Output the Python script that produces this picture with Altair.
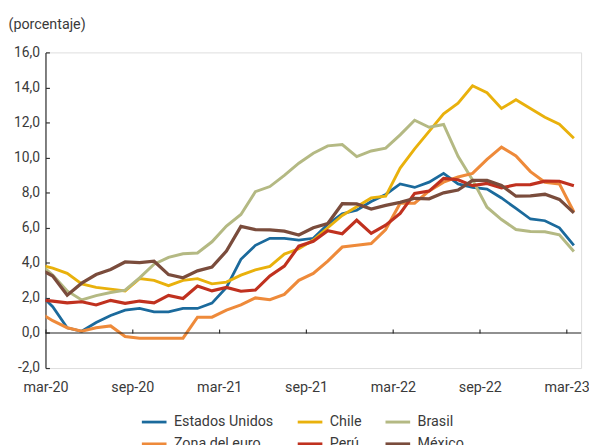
import altair as alt
import pandas as pd

# Months (feb-20 is only partly visible: the plot starts on 1 mar-20)
abbr = ["ene", "feb", "mar", "abr", "may", "jun", "jul", "ago", "sep", "oct", "nov", "dic"]
months = []
for yy in [20, 21, 22, 23]:
    for m in abbr:
        months.append(f"{m}-{yy}")
months = months[months.index("feb-20"):months.index("mar-23") + 1]

series = ["Estados Unidos", "Chile", "Brasil", "Zona del euro", "Perú", "México"]
colors = ["#1b6a9c", "#e9b10c", "#b4b983", "#ee8a3a", "#c0311f", "#7a4c3c"]
widths = [2.8, 3.3, 2.8, 2.8, 2.8, 2.8]

estados_unidos = [2.3, 1.5, 0.3, 0.1, 0.6, 1.0, 1.3, 1.4, 1.2, 1.2, 1.4, 1.4, 1.7, 2.6, 4.2, 5.0, 5.4, 5.4, 5.3,
                  5.4, 6.2, 6.8, 7.0, 7.5, 7.9, 8.5, 8.3, 8.6, 9.1, 8.5, 8.3, 8.2, 7.7, 7.1, 6.5, 6.4, 6.0, 5.0]
chile = [3.9, 3.7, 3.4, 2.8, 2.6, 2.5, 2.4, 3.1, 3.0, 2.7, 3.0, 3.1, 2.8, 2.9, 3.3, 3.6, 3.8, 4.5, 4.8,
         5.3, 6.0, 6.7, 7.2, 7.7, 7.8, 9.4, 10.5, 11.5, 12.5, 13.1, 14.1, 13.7, 12.8, 13.3, 12.8, 12.3, 11.9, 11.1]
brasil = [4.01, 3.30, 2.40, 1.88, 2.13, 2.31, 2.44, 3.14, 3.92, 4.31, 4.52, 4.56, 5.20, 6.10, 6.76, 8.06, 8.35,
          8.99, 9.68, 10.25, 10.67, 10.74, 10.06, 10.38, 10.54, 11.30, 12.13, 11.73, 11.89, 10.07, 8.73, 7.17,
          6.47, 5.90, 5.79, 5.77, 5.60, 4.65]
zona_euro = [1.2, 0.7, 0.3, 0.1, 0.3, 0.4, -0.2, -0.3, -0.3, -0.3, -0.3, 0.9, 0.9, 1.3, 1.6, 2.0, 1.9, 2.2, 3.0,
             3.4, 4.1, 4.9, 5.0, 5.1, 5.9, 7.4, 7.4, 8.1, 8.6, 8.9, 9.1, 9.9, 10.6, 10.1, 9.2, 8.6, 8.5, 6.9]
peru = [1.90, 1.82, 1.72, 1.78, 1.60, 1.86, 1.69, 1.82, 1.72, 2.14, 1.97, 2.68, 2.40, 2.60, 2.38, 2.45, 3.25,
        3.81, 4.95, 5.23, 5.83, 5.66, 6.43, 5.68, 6.15, 6.82, 7.96, 8.09, 8.81, 8.74, 8.40, 8.53, 8.28, 8.45,
        8.46, 8.66, 8.65, 8.40]
mexico = [3.70, 3.25, 2.15, 2.84, 3.33, 3.62, 4.05, 4.01, 4.09, 3.33, 3.15, 3.54, 3.76, 4.67, 6.08, 5.89, 5.88,
          5.81, 5.59, 6.00, 6.24, 7.37, 7.36, 7.07, 7.28, 7.45, 7.68, 7.65, 7.99, 8.15, 8.70, 8.70, 8.41, 7.80,
          7.82, 7.91, 7.62, 6.85]

tick_labels = ["mar-20", "sep-20", "mar-21", "sep-21", "mar-22", "sep-22", "mar-23"]
y_ticks = [-2, 0, 2, 4, 6, 8, 10, 12, 14, 16]

values = [estados_unidos, chile, brasil, zona_euro, peru, mexico]
rows = []
for name, vals in zip(series, values):
    for i, (m, v) in enumerate(zip(months, vals)):
        rows.append({"serie": name, "mes": m, "x": i - 0.5, "v": v})
df = pd.DataFrame(rows)

tick_values = [months.index(l) - 1 for l in tick_labels]
lab_expr = ""
for tv, tl in zip(tick_values, tick_labels):
    lab_expr += f"datum.value == {tv} ? '{tl}' : "
lab_expr += "''"
ylab_expr = "replace(replace(format(datum.value, '.1f'), '.', ','), '\u2212', '-')"

W, H = 543, 320
X_MAX = 37
xscale = alt.Scale(domain=[0, X_MAX], nice=False, zero=False)
yscale = alt.Scale(domain=[-2, 16], nice=False, zero=False)
FONT = "Roboto"
TXT = "#3a3a3a"
FS = 14.5

lines = alt.Chart(df).mark_line(clip=True).encode(
    x=alt.X("x:Q", scale=xscale, axis=alt.Axis(
        orient="bottom", values=tick_values, labelExpr=lab_expr, domain=False, ticks=False, tickSize=0,
        grid=False, labelPadding=20, labelBaseline="middle", labelFontSize=FS, labelColor=TXT,
        labelFont=FONT, title=None, labelFlush=False, labelOverlap=False)),
    y=alt.Y("v:Q", scale=yscale, axis=alt.Axis(
        orient="left", values=y_ticks, labelExpr=ylab_expr, grid=False, ticks=False, tickSize=0,
        domain=True, domainColor="#333333", domainWidth=1.2, labelPadding=6, labelFontSize=FS - 0.5,
        labelColor=TXT, labelFont=FONT, title="(porcentaje)", titleAngle=0, titleAlign="left",
        titleBaseline="middle", titleX=-38, titleY=-28, titleFont=FONT, titleFontSize=FS,
        titleFontWeight="normal", titleColor=TXT)),
    color=alt.Color("serie:N", scale=alt.Scale(domain=series, range=colors), legend=alt.Legend(
        orient="none", direction="horizontal", legendX=95.7, legendY=360.5, columns=3, title=None,
        symbolType="stroke", symbolSize=625, symbolStrokeWidth=3, labelFontSize=FS, labelFont=FONT,
        labelColor=TXT, labelOffset=5.5, columnPadding=17, rowPadding=1, padding=0)),
    strokeWidth=alt.StrokeWidth("serie:N", scale=alt.Scale(domain=series, range=widths), legend=None),
)

zero_df = pd.DataFrame({"z": [0]})
zero = alt.Chart(zero_df).mark_rule(color="#222222", strokeWidth=1.2).encode(
    x=alt.XDatum(0, type="quantitative", scale=xscale, axis=alt.Axis(
        orient="top", offset=-H * 16 / 18, labels=False, ticks=True, tickSize=4, tickColor="#333333",
        tickWidth=1.2, domain=False, grid=False, values=tick_values, title=None)),
    x2=alt.X2Datum(X_MAX),
    y=alt.YDatum(0, type="quantitative", scale=yscale, axis=alt.Axis(
        orient="right", offset=-W, labels=False, ticks=True, tickSize=4, tickColor="#333333",
        tickWidth=1.2, domain=False, grid=False, values=y_ticks, title=None)),
)

chart = alt.layer(lines, zero).resolve_axis(x="independent", y="independent").properties(
    width=W, height=H,
    autosize=alt.AutoSizeParams(type="none"),
    padding={"left": 38, "top": 42, "right": 8, "bottom": 75},
).configure_view(stroke=None).configure(font=FONT)

chart.save("out.html", embed_options={"renderer": "svg", "actions": False})
